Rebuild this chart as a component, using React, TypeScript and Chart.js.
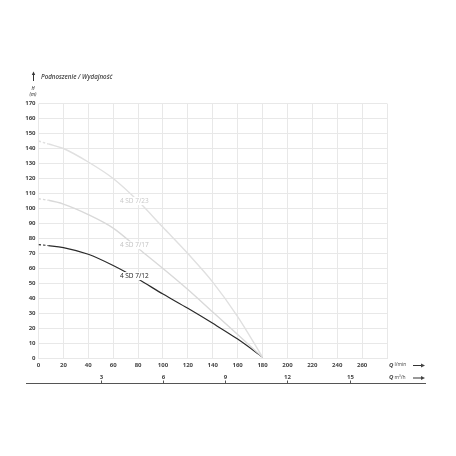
import React, { useEffect, useRef } from "react";
import { Chart, registerables } from "chart.js";

Chart.register(...registerables);

// Flow Q (l/min) and head H (m)
const q723 = [0, 8, 20, 40, 60, 80, 100, 120, 140, 160, 180];
const h723 = [145, 143, 140, 131, 120, 105, 87.5, 70, 51, 28, 1];
const q717 = [0, 8, 20, 40, 60, 80, 100, 120, 140, 160, 180];
const h717 = [106.5, 105.5, 103, 96, 87, 73.5, 60, 46, 31, 16, 1];
const q712 = [0, 8, 20, 40, 60, 80, 100, 120, 140, 160, 180];
const h712 = [76, 75.3, 74, 69.5, 62, 53, 43, 33.5, 23.5, 13, 1];

const seriesNames = ["4 SD 7/23", "4 SD 7/17", "4 SD 7/12"];
const labelQ = [77, 77, 77];
const labelH = [105, 75.5, 55];

const xTicksLmin = [0, 20, 40, 60, 80, 100, 120, 140, 160, 180, 200, 220, 240, 260];
const yTicks = [0, 10, 20, 30, 40, 50, 60, 70, 80, 90, 100, 110, 120, 130, 140, 150, 160, 170];
const m3hTicks = [3, 6, 9, 12, 15];

const FONT = '"Open Sans", "DejaVu Sans", sans-serif';

const pts = (q: number[], h: number[]) => q.map((x, i) => ({ x, y: h[i] }));

const annotPlugin = {
  id: "annot",
  afterDatasetsDraw(chart: any) {
    const ctx = chart.ctx;
    const xs = chart.scales.x;
    const ys = chart.scales.y;
    const colors = ["#c8c8c8", "#c2c2c2", "#222222"];
    ctx.save();
    ctx.font = `6.5px ${FONT}`;
    ctx.textBaseline = "middle";
    ctx.textAlign = "center";
    seriesNames.forEach((name, i) => {
      const px = xs.getPixelForValue(labelQ[i]);
      const py = ys.getPixelForValue(labelH[i]);
      const w = ctx.measureText(name).width;
      ctx.fillStyle = "#ffffff";
      ctx.fillRect(px - w / 2 - 1.5, py - 4, w + 3, 8);
      ctx.fillStyle = colors[i];
      ctx.fillText(name, px, py);
    });
    ctx.restore();
  },
  afterDraw(chart: any) {
    const ctx = chart.ctx;
    const xs = chart.scales.x;
    ctx.save();
    // title arrow
    ctx.strokeStyle = "#333";
    ctx.fillStyle = "#333";
    ctx.lineWidth = 1;
    ctx.beginPath();
    ctx.moveTo(33.5, 81);
    ctx.lineTo(33.5, 74);
    ctx.stroke();
    ctx.beginPath();
    ctx.moveTo(31.8, 75);
    ctx.lineTo(33.5, 71.5);
    ctx.lineTo(35.2, 75);
    ctx.closePath();
    ctx.fill();
    ctx.font = `italic 600 6.2px ${FONT}`;
    ctx.fillStyle = "#444";
    ctx.textAlign = "left";
    ctx.textBaseline = "middle";
    ctx.fillText("Podnoszenie / Wydajność", 41, 77.5);
    ctx.textAlign = "center";
    ctx.font = `italic 600 4.5px ${FONT}`;
    ctx.fillStyle = "#444";
    ctx.fillText("H", 33, 89);
    ctx.fillText("(m)", 33, 95);

    // secondary axis (m3/h)
    const yLine = 383.5;
    ctx.strokeStyle = "#555";
    ctx.lineWidth = 1;
    ctx.beginPath();
    ctx.moveTo(26, yLine);
    ctx.lineTo(426, yLine);
    ctx.stroke();
    ctx.font = `bold 6px ${FONT}`;
    ctx.fillStyle = "#444";
    m3hTicks.forEach((v) => {
      const px = Math.round(xs.getPixelForValue((v * 1000) / 60)) + 0.5;
      ctx.beginPath();
      ctx.moveTo(px, yLine);
      ctx.lineTo(px, yLine - 3);
      ctx.stroke();
      ctx.fillText(String(v), px, 377);
    });

    // unit labels with arrows
    const unitRow = (y: number, unit: string) => {
      ctx.textAlign = "left";
      ctx.font = `italic bold 6px ${FONT}`;
      ctx.fillStyle = "#444";
      ctx.fillText("Q", 389, y);
      const qw = ctx.measureText("Q").width;
      ctx.font = `5px ${FONT}`;
      ctx.fillText(unit, 389 + qw + 1, y);
      ctx.strokeStyle = "#333";
      ctx.beginPath();
      ctx.moveTo(413, y + 0.5);
      ctx.lineTo(422, y + 0.5);
      ctx.stroke();
      ctx.beginPath();
      ctx.moveTo(421, y - 1.5);
      ctx.lineTo(425, y + 0.5);
      ctx.lineTo(421, y + 2.5);
      ctx.closePath();
      ctx.fill();
    };
    unitRow(365, "l/min");
    unitRow(377.5, "m³/h");
    ctx.restore();
  },
};

export default function App() {
  const ref = useRef<HTMLCanvasElement>(null);
  useEffect(() => {
    if (!ref.current) return;
    const dash = (ctx: any) => (ctx.p0DataIndex === 0 ? [2.5, 2] : undefined);
    const chart = new Chart(ref.current, {
      type: "line",
      data: {
        datasets: [
          {
            label: seriesNames[0],
            data: pts(q723, h723),
            borderColor: "#e0e0e0",
            borderWidth: 1.4,
            pointRadius: 0,
            cubicInterpolationMode: "monotone",
            segment: { borderDash: dash },
          },
          {
            label: seriesNames[1],
            data: pts(q717, h717),
            borderColor: "#d9d9d9",
            borderWidth: 1.4,
            pointRadius: 0,
            cubicInterpolationMode: "monotone",
            segment: { borderDash: dash },
          },
          {
            label: seriesNames[2],
            data: pts(q712, h712),
            borderColor: "#2a2a2a",
            borderWidth: 1.2,
            pointRadius: 0,
            cubicInterpolationMode: "monotone",
            segment: { borderDash: dash },
          },
        ],
      },
      options: {
        animation: false,
        responsive: false,
        devicePixelRatio: 1,
        layout: { padding: { left: 0, top: 103.5, right: 69, bottom: 85.4 } },
        plugins: { legend: { display: false }, tooltip: { enabled: false } },
        scales: {
          x: {
            type: "linear",
            min: 0,
            max: 280,
            afterFit: (s: any) => {
              s.height = 12;
            },
            afterBuildTicks: (s: any) => {
              s.ticks = [...xTicksLmin, 280].map((v) => ({ value: v }));
            },
            ticks: {
              padding: 3,
              maxRotation: 0,
              autoSkip: false,
              font: { family: FONT, size: 6, weight: "bold" },
              color: "#444",
              callback: (v: any) => (xTicksLmin.includes(v) ? String(v) : ""),
            },
            grid: { color: "#e8e8e8", lineWidth: 1, drawTicks: false },
            border: { display: false },
          },
          y: {
            type: "linear",
            min: 0,
            max: 170,
            afterFit: (s: any) => {
              s.width = 38.5;
            },
            afterBuildTicks: (s: any) => {
              s.ticks = yTicks.map((v) => ({ value: v }));
            },
            ticks: {
              padding: 3,
              autoSkip: false,
              font: { family: FONT, size: 6, weight: "bold" },
              color: "#444",
            },
            grid: { color: "#e8e8e8", lineWidth: 1, drawTicks: false },
            border: { display: false },
          },
        },
      },
      plugins: [annotPlugin],
    } as any);
    return () => chart.destroy();
  }, []);
  return (
    <div style={{ position: "absolute", left: 0, top: 0, width: 456, height: 456, background: "#fff" }}>
      <canvas ref={ref} width={456} height={456} style={{ display: "block" }} />
    </div>
  );
}
